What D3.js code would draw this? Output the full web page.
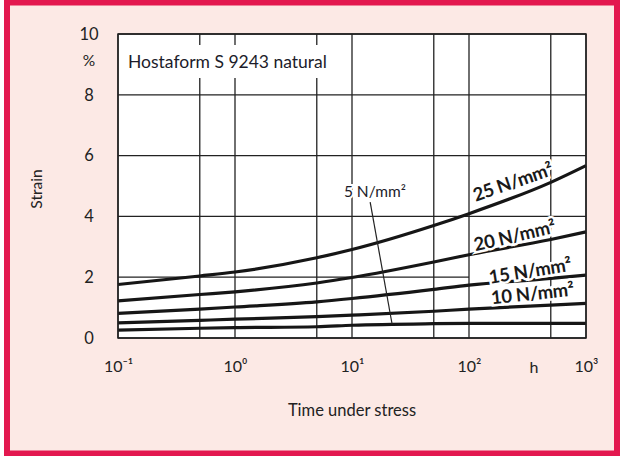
<!DOCTYPE html>
<html>
<head>
<meta charset="utf-8">
<script src="https://cdn.jsdelivr.net/npm/d3@7"></script>
<style>
  body { margin: 0; background: #fff; }
  svg { display: block; font-family: Lato, "Open Sans", sans-serif; }
</style>
</head>
<body>
<svg id="chart" width="620" height="456"></svg>
<script>
// time under stress (h) at which the curves were read
var times = [0.1, 0.5, 1, 5, 10, 50, 100, 500, 1000];
var stress25 = [1.76, 2.04, 2.17, 2.64, 2.91, 3.70, 4.09, 5.12, 5.67];
var stress20 = [1.22, 1.43, 1.52, 1.81, 1.99, 2.50, 2.74, 3.24, 3.49];
var stress15 = [0.81, 0.95, 1.02, 1.19, 1.30, 1.60, 1.74, 1.96, 2.07];
var stress10 = [0.50, 0.58, 0.62, 0.70, 0.75, 0.88, 0.95, 1.08, 1.14];
var stress5  = [0.26, 0.32, 0.34, 0.37, 0.42, 0.47, 0.48, 0.48, 0.48];

var xTicks = [0.1, 1, 10, 100, 1000];
var xTickLabels = ["10\u207B\u00B9", "10\u2070", "10\u00B9", "10\u00B2", "10\u00B3"];
var xGrid = [0.1, 0.5, 1, 5, 10, 50, 100, 500, 1000];
var yTicks = [0, 2, 4, 6, 8, 10];

var series = [
    { label: "25 N/mm\u00B2", values: stress25 },
    { label: "20 N/mm\u00B2", values: stress20 },
    { label: "15 N/mm\u00B2", values: stress15 },
    { label: "10 N/mm\u00B2", values: stress10 },
    { label: "5 N/mm\u00B2",  values: stress5 }
];

var svg = d3.select("#chart"),
    margin = {top: 34, right: 34, bottom: 118, left: 118},
    width = 620 - margin.left - margin.right,
    height = 456 - margin.top - margin.bottom;

// frame
svg.append("rect")
    .attr("x", 7).attr("y", 2.5)
    .attr("width", 610).attr("height", 451)
    .attr("fill", "#fce9e5")
    .attr("stroke", "#e3184f")
    .attr("stroke-width", 6);

var x = d3.scaleLog().domain([0.1, 1000]).range([0, width]),
    y = d3.scaleLinear().domain([0, 10]).range([height, 0]);

var g = svg.append("g")
    .attr("transform", "translate(" + margin.left + "," + margin.top + ")");

g.append("rect")
    .attr("width", width).attr("height", height)
    .attr("fill", "#fff");

// grid
g.selectAll(".vgrid")
    .data(xGrid)
  .enter().append("line")
    .attr("class", "vgrid")
    .attr("x1", function(d) { return x(d); })
    .attr("x2", function(d) { return x(d); })
    .attr("y1", 0).attr("y2", height)
    .attr("stroke", "#222").attr("stroke-width", 1.3);

g.selectAll(".hgrid")
    .data(yTicks)
  .enter().append("line")
    .attr("class", "hgrid")
    .attr("x1", 0)
    // the 2 % line stops where the labels start
    .attr("x2", function(d) { return d === 2 ? x(100) : width; })
    .attr("y1", function(d) { return y(d); })
    .attr("y2", function(d) { return y(d); })
    .attr("stroke", "#222").attr("stroke-width", 1.3);

// title box
var title = g.append("g").attr("transform", "translate(10,34)");
title.append("rect")
    .attr("x", -6).attr("y", -23)
    .attr("width", 222).attr("height", 33)
    .attr("fill", "#fff");
title.append("text")
    .attr("font-size", 17.5)
    .attr("fill", "#1c1c2a")
    .text("Hostaform S 9243 natural");

// curves
var line = d3.line()
    .x(function(d, i) { return x(times[i]); })
    .y(function(d) { return y(d); })
    .curve(d3.curveMonotoneX);

g.selectAll(".curve")
    .data(series)
  .enter().append("path")
    .attr("class", "curve")
    .attr("d", function(d) { return line(d.values); })
    .attr("fill", "none")
    .attr("stroke", "#161616")
    .attr("stroke-width", 3.2);

// labels on the curves (baseline centre in data units)
var labelPos = [
    { t: 247, s: 4.93, angle: -19 },
    { t: 252, s: 3.16, angle: -13 },
    { t: 339, s: 2.00, angle: -9 },
    { t: 352, s: 1.25, angle: -6 }
];

g.selectAll(".clabel")
    .data(series.slice(0, 4))
  .enter().append("text")
    .attr("class", "clabel")
    .attr("transform", function(d, i) {
        return "translate(" + x(labelPos[i].t) + "," + y(labelPos[i].s) + ") rotate(" + labelPos[i].angle + ")";
    })
    .attr("text-anchor", "middle")
    .attr("font-size", 18.5)
    .attr("font-weight", "bold")
    .attr("fill", "#1a1a1a")
    .attr("stroke", "#fff")
    .attr("stroke-width", 5)
    .attr("paint-order", "stroke")
    .attr("letter-spacing", -0.3)
    .text(function(d) { return d.label; });

// 5 N/mm² with leader line
g.append("line")
    .attr("x1", x(14.3)).attr("y1", y(4.47))
    .attr("x2", x(22)).attr("y2", y(0.46))
    .attr("stroke", "#222").attr("stroke-width", 1.2);
g.append("text")
    .attr("x", x(15.7)).attr("y", y(4.64))
    .attr("text-anchor", "middle")
    .attr("font-size", 15.5)
    .attr("fill", "#1c1c2a")
    .attr("stroke", "#fff")
    .attr("stroke-width", 4)
    .attr("paint-order", "stroke")
    .text(series[4].label);

g.append("rect")
    .attr("width", width).attr("height", height)
    .attr("fill", "none")
    .attr("stroke", "#222").attr("stroke-width", 1.5);

// axes
var xAxis = g.append("g")
    .attr("transform", "translate(0," + height + ")")
    .call(d3.axisBottom(x)
        .tickValues(xTicks)
        .tickSize(0)
        .tickPadding(23)
        .tickFormat(function(d, i) { return xTickLabels[i]; }));
xAxis.select(".domain").remove();
xAxis.selectAll("text")
    .attr("font-size", 16)
    .attr("font-family", "Lato, sans-serif")
    .attr("fill", "#222");

g.append("text")
    .attr("x", x(360)).attr("y", height + 35)
    .attr("text-anchor", "middle")
    .attr("font-size", 16)
    .attr("fill", "#222")
    .text("h");

var yAxis = g.append("g")
    .call(d3.axisLeft(y)
        .tickValues(yTicks)
        .tickSize(0)
        .tickPadding(29));
yAxis.select(".domain").remove();
yAxis.selectAll("text")
    .attr("text-anchor", "middle")
    .attr("font-size", 16.5)
    .attr("font-family", "Lato, sans-serif")
    .attr("fill", "#222");

g.append("text")
    .attr("x", -29).attr("y", y(9.1))
    .attr("dy", "0.32em")
    .attr("text-anchor", "middle")
    .attr("font-size", 15.5)
    .attr("fill", "#222")
    .text("%");

g.append("text")
    .attr("transform", "translate(-76," + y(4.9) + ") rotate(-90)")
    .attr("text-anchor", "middle")
    .attr("font-size", 15.5)
    .attr("fill", "#222")
    .text("Strain");

g.append("text")
    .attr("x", x(10)).attr("y", height + 78)
    .attr("text-anchor", "middle")
    .attr("font-size", 16.5)
    .attr("fill", "#222")
    .text("Time under stress");
</script>
</body>
</html>
